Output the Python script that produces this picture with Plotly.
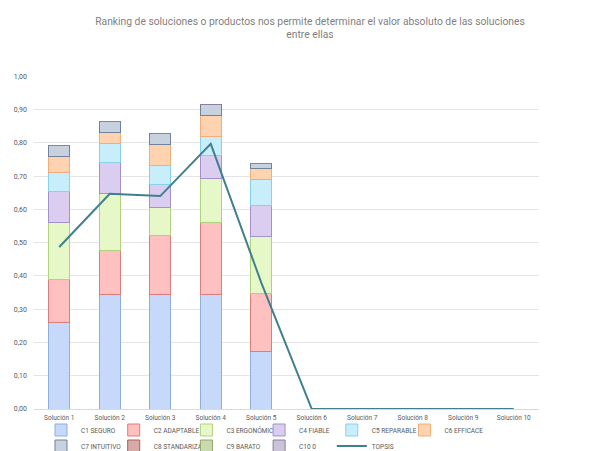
import plotly.graph_objects as go

categories = ["Solución 1", "Solución 2", "Solución 3", "Solución 4", "Solución 5",
              "Solución 6", "Solución 7", "Solución 8", "Solución 9", "Solución 10"]

c1_seguro = [0.260, 0.345, 0.345, 0.345, 0.173, 0, 0, 0, 0, 0]
c2_adaptable = [0.130, 0.131, 0.176, 0.217, 0.175, 0, 0, 0, 0, 0]
c3_ergonomico = [0.170, 0.171, 0.084, 0.130, 0.172, 0, 0, 0, 0, 0]
c4_fiable = [0.095, 0.095, 0.070, 0.070, 0.091, 0, 0, 0, 0, 0]
c5_reparable = [0.057, 0.057, 0.057, 0.057, 0.079, 0, 0, 0, 0, 0]
c6_efficace = [0.047, 0.032, 0.064, 0.064, 0.032, 0, 0, 0, 0, 0]
c7_intuitivo = [0.033, 0.033, 0.033, 0.032, 0.017, 0, 0, 0, 0, 0]
c8_standarizado = [0, 0, 0, 0, 0, 0, 0, 0, 0, 0]
c9_barato = [0, 0, 0, 0, 0, 0, 0, 0, 0, 0]
c10_0 = [0, 0, 0, 0, 0, 0, 0, 0, 0, 0]
topsis = [0.487, 0.647, 0.640, 0.797, 0.380, 0, 0, 0, 0, 0]

series_names = ["C1 SEGURO", "C2 ADAPTABLE", "C3 ERGONÓMICO", "C4 FIABLE", "C5 REPARABLE",
                "C6 EFFICACE", "C7 INTUITIVO", "C8 STANDARIZADO", "C9 BARATO", "C10 0"]
series_values = [c1_seguro, c2_adaptable, c3_ergonomico, c4_fiable, c5_reparable,
                 c6_efficace, c7_intuitivo, c8_standarizado, c9_barato, c10_0]
fills = ["#c6d9fb", "#ffc0c0", "#e7f8c8", "#dacdef", "#c8eefb",
         "#ffd3b0", "#c8d1de", "#d8aaa6", "#cadaae", "#cbc3d6"]
borders = ["#8eaee0", "#e07b7b", "#b0d27c", "#a591cc", "#86d2ea",
           "#f2ad78", "#6f819c", "#a8605a", "#8ba867", "#8a7fa0"]

FONT = "Roboto, sans-serif"
W, H = 606, 451

# legend slots: 6 per row, text starts at x = 81 + 72.7*col, rows at y = 430 / 446 px
legend_ids = ["legend"] + [f"legend{i}" for i in range(2, 12)]
slots = [(k % 6, k // 6) for k in range(11)]

fig = go.Figure()
for i, (name, vals, fc, bc) in enumerate(zip(series_names, series_values, fills, borders)):
    fig.add_trace(go.Bar(
        x=categories, y=vals, name=name, legend=legend_ids[i],
        marker=dict(color=fc, line=dict(color=bc, width=1)),
    ))

fig.add_trace(go.Scatter(
    x=categories, y=topsis, name="TOPSIS", mode="lines", legend=legend_ids[10],
    line=dict(color="#3f7f8e", width=2),
))

legend_layouts = {}
for lid, (col, row) in zip(legend_ids, slots):
    text_x = 81 + 72.7 * col
    cy = 430 + 16 * row
    legend_layouts[lid] = dict(
        x=(text_x - 40) / W, xanchor="left", xref="container",
        y=1 - cy / H, yanchor="middle", yref="container",
        orientation="h", font=dict(family=FONT, size=6.5, color="#595959"),
        bgcolor="rgba(0,0,0,0)", borderwidth=0, itemwidth=30,
        traceorder="normal",
    )

fig.update_layout(
    width=W, height=H,
    margin=dict(l=34, r=67, t=76, b=42, autoexpand=False),
    paper_bgcolor="white", plot_bgcolor="white",
    barmode="stack", bargap=0.58,
    separators=",.",
    font=dict(family=FONT, size=7, color="#595959"),
    title=dict(
        text="Ranking de soluciones o productos nos permite determinar el valor absoluto de las soluciones<br>entre ellas",
        x=310 / W, xanchor="center", xref="container",
        y=1 - 25 / H, yanchor="top", yref="container",
        font=dict(family=FONT, size=10.3, color="#7f7f7f"),
    ),
    showlegend=True,
    xaxis=dict(
        showgrid=False, showline=True, linecolor="#d9d9d9", linewidth=1,
        ticks="", tickfont=dict(size=6.5, color="#595959"), ticklabelstandoff=2,
    ),
    yaxis=dict(
        range=[0, 1.001], dtick=0.1, tickformat=".2f",
        showgrid=True, gridcolor="#e4e4e4", gridwidth=1,
        zeroline=False, showline=False, ticks="",
        tickfont=dict(size=7, color="#595959"), ticklabelstandoff=6,
    ),
    **legend_layouts,
)

fig.write_html("out.html")
